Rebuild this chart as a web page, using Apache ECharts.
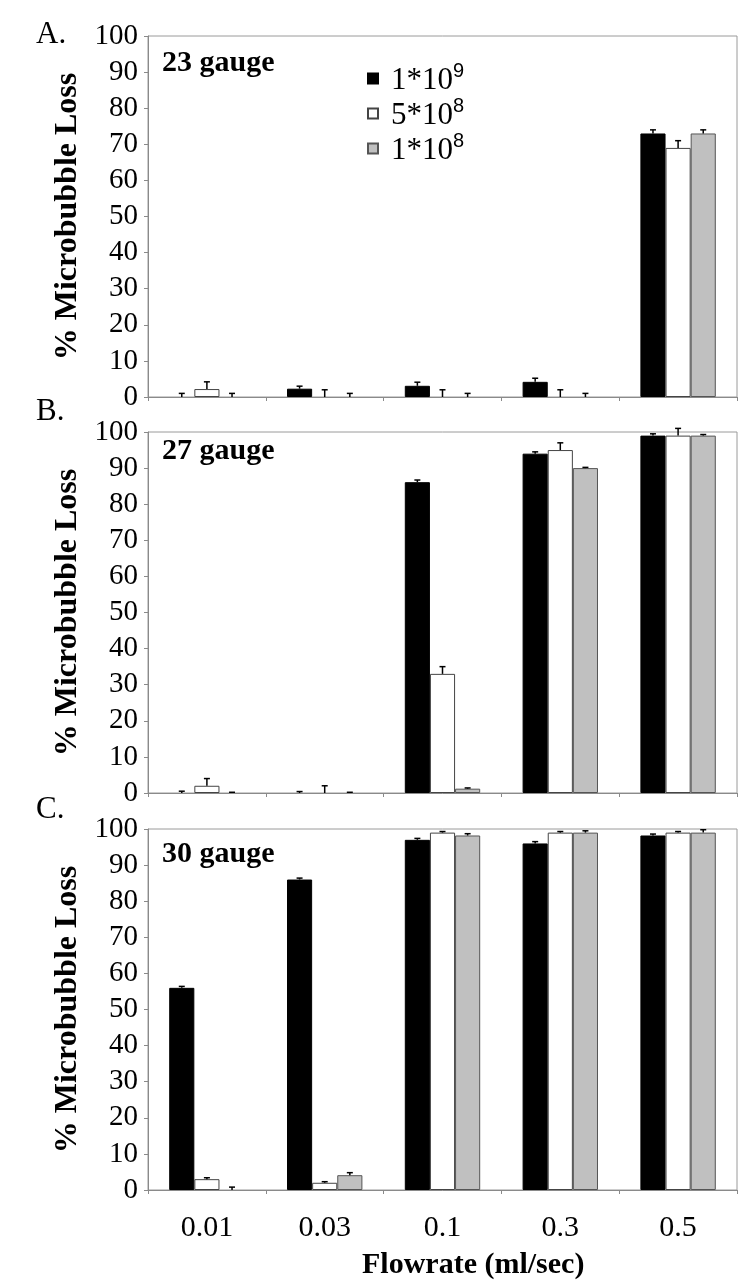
<!DOCTYPE html>
<html><head><meta charset="utf-8">
<script src="https://cdn.jsdelivr.net/npm/echarts@6/dist/echarts.min.js"></script>
<style>html,body{margin:0;padding:0;background:#fff}#c{width:750px;height:1281px}</style>
</head><body><div id="c"></div>
<script>
// ---- data ----
const categories = ['0.01', '0.03', '0.1', '0.3', '0.5'];
const seriesNames = ['1*10^9', '5*10^8', '1*10^8'];
const panelLetters = ['A.', 'B.', 'C.'];
const gaugeLabels = ['23 gauge', '27 gauge', '30 gauge'];
const yAxisName = '% Microbubble Loss';
const xAxisName = 'Flowrate (ml/sec)';

// Panel A – 23 gauge
const a1e9 = [0, 2.3, 3.1, 4.2, 73];
const a5e8 = [2.2, 0, 0, 0, 69];
const a1e8 = [0, 0, 0, 0, 73];
const a1e9Err = [1, 0.7, 1, 1, 1];
const a5e8Err = [2, 2, 2, 2, 2];
const a1e8Err = [1, 1, 1, 1, 1];
// Panel B – 27 gauge
const b1e9 = [0, 0, 86.1, 94, 99];
const b5e8 = [2, 0, 33, 95, 99];
const b1e8 = [0, 0, 1.2, 90, 99];
const b1e9Err = [0.5, 0.4, 0.6, 0.5, 0.5];
const b5e8Err = [2, 2, 2, 2, 2];
const b1e8Err = [0.2, 0.2, 0.2, 0.2, 0.3];
// Panel C – 30 gauge
const c1e9 = [56, 86, 97, 96, 98.2];
const c5e8 = [3, 2, 99, 99, 99];
const c1e8 = [0, 4.1, 98.2, 99, 99];
const c1e9Err = [0.4, 0.4, 0.4, 0.5, 0.4];
const c5e8Err = [0.4, 0.3, 0.3, 0.3, 0.3];
const c1e8Err = [0.8, 0.7, 0.5, 0.5, 0.8];

const panels = [
  {vals: [a1e9, a5e8, a1e8], errs: [a1e9Err, a5e8Err, a1e8Err]},
  {vals: [b1e9, b5e8, b1e8], errs: [b1e9Err, b5e8Err, b1e8Err]},
  {vals: [c1e9, c5e8, c1e8], errs: [c1e9Err, c5e8Err, c1e8Err]}
];

// ---- layout / style ----
const gridTops = [36, 432, 829];
const gridH = 361;
const gridLeft = 148, gridRight = 13;
const CAT_GAP = 0.36;
const fills = ['#000000', '#ffffff', '#c0c0c0'];
const borders = ['#000000', '#444444', '#555555'];
const SERIF = "'Liberation Serif', 'Times New Roman', serif";
const SANS = "'Liberation Sans', Arial, sans-serif";

const chart = echarts.init(document.getElementById('c'), null, {renderer: 'canvas'});

const grids = [], xAxes = [], yAxes = [], series = [], graphics = [];

function errRender(pos) {
  return function (params, api) {
    const cat = api.value(0), v = api.value(1), e = api.value(2);
    const base = api.coord([cat, v]);
    const top = api.coord([cat, v + e]);
    const band = api.size([1, 0])[0];
    const bw = band * (1 - CAT_GAP) / 3;
    const x = base[0] + (pos - 1) * bw;
    const cap = 3;
    return {
      type: 'group',
      children: [
        {type: 'line', shape: {x1: x, y1: base[1], x2: x, y2: top[1]}, style: {stroke: '#000', lineWidth: 1.5}},
        {type: 'line', shape: {x1: x - cap, y1: top[1], x2: x + cap, y2: top[1]}, style: {stroke: '#000', lineWidth: 1.5}}
      ]
    };
  };
}

panels.forEach((p, gi) => {
  grids.push({
    left: gridLeft, right: gridRight, top: gridTops[gi], height: gridH,
    show: true, borderColor: '#9a9a9a', borderWidth: 1, backgroundColor: 'transparent'
  });
  xAxes.push({
    type: 'category', gridIndex: gi, data: categories,
    axisLine: {lineStyle: {color: '#8a8a8a', width: 1}},
    axisTick: {show: true, alignWithLabel: false, length: 4, lineStyle: {color: '#8a8a8a'}},
    axisLabel: {show: gi === 2, color: '#000', fontFamily: SERIF, fontSize: 30, margin: 23}
  });
  yAxes.push({
    type: 'value', gridIndex: gi, min: 0, max: 100, interval: 10,
    name: yAxisName, nameLocation: 'middle', nameGap: 61,
    nameTextStyle: {color: '#000', fontFamily: SERIF, fontSize: 32, fontWeight: 'bold'},
    axisLine: {show: true, lineStyle: {color: '#8a8a8a', width: 1}},
    axisTick: {show: true, length: 4, lineStyle: {color: '#8a8a8a'}},
    splitLine: {show: false},
    axisLabel: {color: '#000', fontFamily: SERIF, fontSize: 29, margin: 10}
  });
  p.vals.forEach((vals, si) => {
    series.push({
      type: 'bar', name: seriesNames[si], xAxisIndex: gi, yAxisIndex: gi,
      data: vals.map(v => v === 0 ? {value: v, itemStyle: {borderWidth: 0, opacity: 0}} : v),
      barGap: '0%', barCategoryGap: (CAT_GAP * 100) + '%',
      itemStyle: {color: fills[si], borderColor: borders[si], borderWidth: 1},
      emphasis: {disabled: true}, animation: false
    });
  });
  p.vals.forEach((vals, si) => {
    series.push({
      type: 'custom', xAxisIndex: gi, yAxisIndex: gi, z: 5,
      renderItem: errRender(si),
      data: vals.map((v, i) => [i, v, p.errs[si][i]]),
      encode: {x: 0, y: [1, 2]}, animation: false, silent: true
    });
  });
});

const letterY = [35, 412, 810];
const gaugeY = [66, 454, 857];
panelLetters.forEach((t, i) => {
  graphics.push({type: 'text', left: 36, top: letterY[i] - 16,
    style: {text: t, font: '31px ' + SERIF, fill: '#000'}});
  graphics.push({type: 'text', left: 162, top: gaugeY[i] - 18,
    style: {text: gaugeLabels[i], font: 'bold 30px ' + SERIF, fill: '#000'}});
});
graphics.push({type: 'text', left: 362, top: 1250,
  style: {text: xAxisName, font: 'bold 30px ' + SERIF, fill: '#000'}});

chart.setOption({
  animation: false,
  backgroundColor: '#fff',
  grid: grids, xAxis: xAxes, yAxis: yAxes, series: series,
  legend: {
    data: seriesNames, orient: 'vertical', left: 362, top: 56,
    icon: 'rect', itemWidth: 10, itemHeight: 10, itemGap: 0,
    selectedMode: false,
    formatter: function (name) {
      const parts = name.split('^');
      return '{b|' + parts[0] + '}{s|' + parts[1] + '}';
    },
    textStyle: {
      color: '#000', fontFamily: SERIF, fontSize: 30, padding: [0, 0, 0, 4],
      rich: {
        b: {fontFamily: SERIF, fontSize: 31, lineHeight: 35, color: '#000', padding: [0, 0, 0, 4], verticalAlign: 'bottom'},
        s: {fontFamily: SANS, fontSize: 20, color: '#000', verticalAlign: 'top', lineHeight: 20}
      }
    }
  },
  graphic: graphics
});
</script></body></html>
